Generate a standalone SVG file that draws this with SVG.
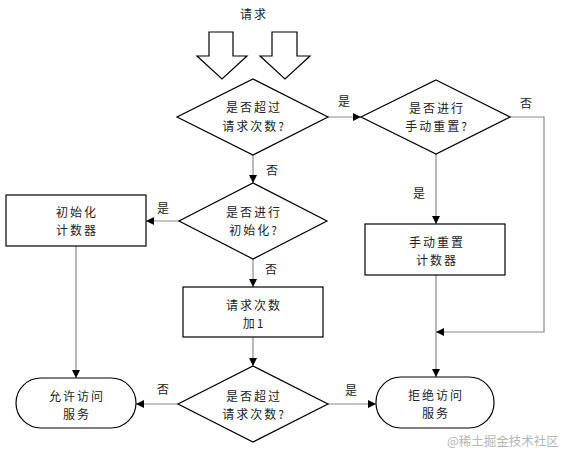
<svg xmlns="http://www.w3.org/2000/svg" width="565" height="461" viewBox="0 0 565 461">
<style>
.s{fill:#fff;stroke:#000;stroke-width:1.2}
.t{font-family:"Noto Sans CJK SC","Noto Sans",sans-serif;font-size:12px;fill:#222;text-anchor:middle;letter-spacing:2px}
.c{fill:none;stroke:#8a8a8a;stroke-width:1.2}
.w{font-family:"Noto Sans CJK SC",sans-serif;font-size:12.5px;fill:#b5b5b5}
</style>
<defs>
<marker id="a" viewBox="0 0 10 10" refX="10" refY="5" markerWidth="8" markerHeight="8" markerUnits="userSpaceOnUse" orient="auto">
<path d="M0,0 L10,5 L0,10 z" fill="#000"/>
</marker>
</defs>
<rect width="565" height="461" fill="#fff"/>
<g id="request">
<text class="t" x="254" y="19">请求</text>
<polygon class="s" points="209,32 233,32 233,56 247,56 222,79 197,56 209,56"/>
<polygon class="s" points="272,32 297,32 297,56 310,56 285,79 260,56 272,56"/>
</g>
<g id="connectors">
<path class="c" d="M328,117 H361" marker-end="url(#a)"/>
<path class="c" d="M253,155 V183" marker-end="url(#a)"/>
<path class="c" d="M179,221 H146" marker-end="url(#a)"/>
<path class="c" d="M253,259 V287" marker-end="url(#a)"/>
<path class="c" d="M253,337 V366" marker-end="url(#a)"/>
<path class="c" d="M76,246 V378" marker-end="url(#a)"/>
<path class="c" d="M178,404 H136" marker-end="url(#a)"/>
<path class="c" d="M328,404 H376" marker-end="url(#a)"/>
<path class="c" d="M436,154 V224" marker-end="url(#a)"/>
<path class="c" d="M436,275 V377" marker-end="url(#a)"/>
<path class="c" d="M510,117 H544 V332 H436" marker-end="url(#a)"/>
<text class="t" x="345" y="106">是</text>
<text class="t" x="527" y="108">否</text>
<text class="t" x="273" y="175">否</text>
<text class="t" x="164" y="213">是</text>
<text class="t" x="272" y="274">否</text>
<text class="t" x="420" y="198">是</text>
<text class="t" x="164" y="394">否</text>
<text class="t" x="352" y="395">是</text>
</g>
<g id="d1">
<polygon class="s" points="253,79 328,117 253,155 177,117"/>
<text class="t" x="254" y="112">是否超过</text>
<text class="t" x="254" y="131">请求次数?</text>
</g>
<g id="d2">
<polygon class="s" points="436,80 510,117 436,154 361,117"/>
<text class="t" x="437" y="113">是否进行</text>
<text class="t" x="437" y="131">手动重置?</text>
</g>
<g id="d3">
<polygon class="s" points="253,183 327,221 253,259 179,221"/>
<text class="t" x="254" y="217">是否进行</text>
<text class="t" x="254" y="235">初始化?</text>
</g>
<g id="r1">
<rect class="s" x="6" y="195" width="140" height="51"/>
<text class="t" x="77" y="217">初始化</text>
<text class="t" x="77" y="235">计数器</text>
</g>
<g id="r2">
<rect class="s" x="183" y="287" width="140" height="50"/>
<text class="t" x="254" y="310">请求次数</text>
<text class="t" x="254" y="328">加1</text>
</g>
<g id="r3">
<rect class="s" x="365" y="224" width="140" height="51"/>
<text class="t" x="437" y="247">手动重置</text>
<text class="t" x="437" y="265">计数器</text>
</g>
<g id="d4">
<polygon class="s" points="253,366 328,404 253,442 178,404"/>
<text class="t" x="254" y="401">是否超过</text>
<text class="t" x="254" y="419">请求次数?</text>
</g>
<g id="t1">
<rect class="s" x="16" y="378" width="120" height="50" rx="25"/>
<text class="t" x="77" y="401">允许访问</text>
<text class="t" x="77" y="419">服务</text>
</g>
<g id="t2">
<rect class="s" x="376" y="377" width="118" height="51" rx="25"/>
<text class="t" x="436" y="400">拒绝访问</text>
<text class="t" x="436" y="418">服务</text>
</g>
<text class="w" x="447" y="446">@稀土掘金技术社区</text>
</svg>
